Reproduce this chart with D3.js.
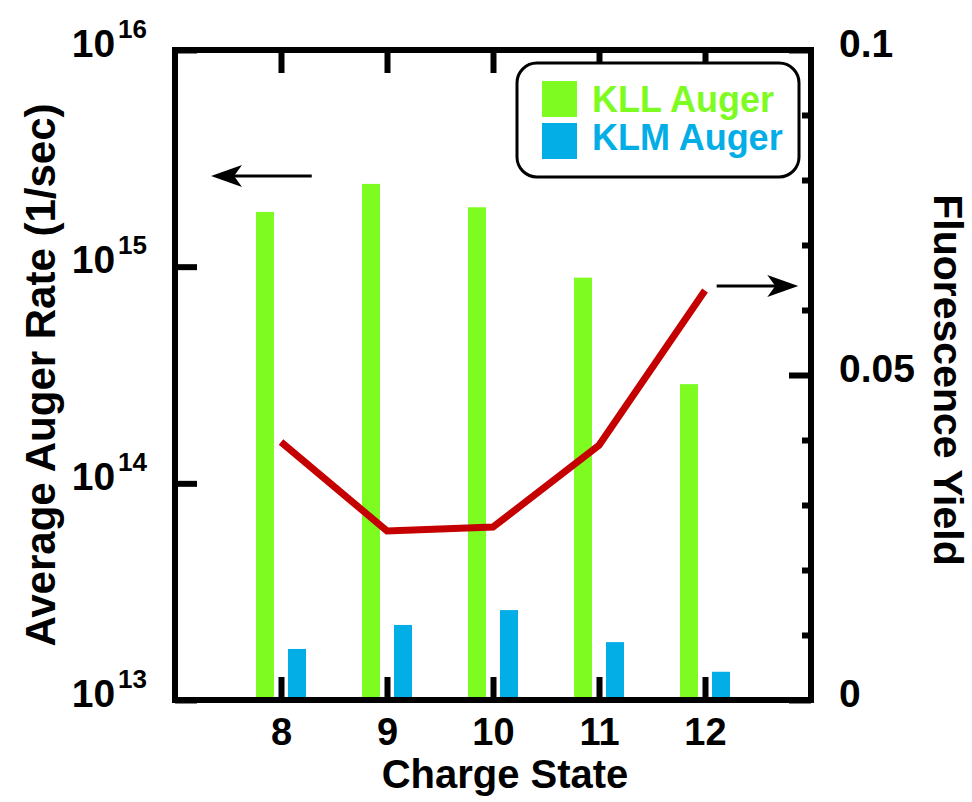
<!DOCTYPE html>
<html>
<head>
<meta charset="utf-8">
<script src="https://cdn.jsdelivr.net/npm/d3@7"></script>
<style>
  html, body { margin: 0; padding: 0; background: #fff; }
  svg { display: block; font-family: "Liberation Sans", Arial, Helvetica, sans-serif; font-weight: bold; }
</style>
</head>
<body>
<svg id="chart" width="972" height="802"></svg>
<script>
// Charge states on the x axis
const chargeStates = [8, 9, 10, 11, 12];
// Average Auger rates (1/sec), left log axis
const kllAuger = [1.79e15, 2.41e15, 1.88e15, 8.9e14, 2.87e14];
const klmAuger = [1.72e13, 2.22e13, 2.60e13, 1.85e13, 1.35e13];
// Fluorescence yield, right linear axis
const fluorescenceYield = [0.0397, 0.0260, 0.0266, 0.0392, 0.0630];
// Tick values and labels
const leftTicks = [1e13, 1e14, 1e15, 1e16];
const rightMajorTicks = [0, 0.05, 0.1];
const rightMajorLabels = ["0", "0.05", "0.1"];
const rightMinorTicks = [0.01, 0.02, 0.03, 0.04, 0.06, 0.07, 0.08, 0.09];
const seriesNames = ["KLL Auger", "KLM Auger"];

const colors = { kll: "#7efc22", klm: "#03ade6", line: "#c40000" };

const svg = d3.select("#chart");
const L = 175, R = 811, T = 50, B = 700;

const x = d3.scaleLinear().domain([7, 13]).range([L, R]);
const yL = d3.scaleLog().domain([1e13, 1e16]).range([B, T]);
const yR = d3.scaleLinear().domain([0, 0.1]).range([B, T]);

const barW = 18, barGap = 7;

// KLL bars (left of each charge state)
svg.append("g").selectAll("rect")
  .data(chargeStates.map((c, i) => ({ c, v: kllAuger[i] })))
  .join("rect")
  .attr("x", d => x(d.c) - barGap - barW)
  .attr("width", barW)
  .attr("y", d => yL(d.v))
  .attr("height", d => B - yL(d.v))
  .attr("fill", colors.kll);

// KLM bars (right of each charge state)
svg.append("g").selectAll("rect")
  .data(chargeStates.map((c, i) => ({ c, v: klmAuger[i] })))
  .join("rect")
  .attr("x", d => x(d.c) + barGap)
  .attr("width", barW)
  .attr("y", d => yL(d.v))
  .attr("height", d => B - yL(d.v))
  .attr("fill", colors.klm);

// Fluorescence yield line
svg.append("path")
  .datum(chargeStates.map((c, i) => [c, fluorescenceYield[i]]))
  .attr("d", d3.line().x(d => x(d[0])).y(d => yR(d[1])))
  .attr("fill", "none")
  .attr("stroke", colors.line)
  .attr("stroke-width", 7)
  .attr("stroke-linejoin", "miter");

// Axes
function styleAxis(g) {
  g.select(".domain").remove();
  g.selectAll(".tick line").attr("stroke", "#000").attr("stroke-width", 6);
  g.selectAll(".tick text").attr("fill", "#000");
}

// Bottom axis
svg.append("g")
  .attr("transform", `translate(0,${B})`)
  .call(d3.axisBottom(x).tickValues(chargeStates).tickSize(-23).tickPadding(18).tickFormat(d3.format("d")))
  .call(styleAxis)
  .call(g => g.selectAll(".tick text").attr("font-size", 38).attr("font-family", null).attr("font-weight", "bold"));

// Top axis (ticks only)
svg.append("g")
  .attr("transform", `translate(0,${T})`)
  .call(d3.axisTop(x).tickValues(chargeStates).tickSize(-23).tickFormat(""))
  .call(styleAxis);

// Left log axis with 10^n labels
svg.append("g")
  .attr("transform", `translate(${L},0)`)
  .call(d3.axisLeft(yL).tickValues(leftTicks).tickSize(-22).tickPadding(28))
  .call(styleAxis)
  .call(g => {
    g.selectAll(".tick text").each(function(d) {
      const t = d3.select(this).text(null)
        .attr("font-family", null).attr("font-weight", "bold")
        .attr("dy", 6).attr("font-size", 39);
      t.append("tspan").text("10");
      t.append("tspan").attr("font-size", 26).attr("dy", -19).attr("dx", 3)
        .text(Math.round(Math.log10(d)));
    });
  });

// Right axis: minor ticks
svg.append("g")
  .attr("transform", `translate(${R},0)`)
  .call(d3.axisRight(yR).tickValues(rightMinorTicks).tickSize(-9).tickFormat(""))
  .call(styleAxis);

// Right axis: major ticks and labels
svg.append("g")
  .attr("transform", `translate(${R},0)`)
  .call(d3.axisRight(yR).tickValues(rightMajorTicks).tickSize(-22).tickPadding(28)
    .tickFormat((d, i) => rightMajorLabels[i]))
  .call(styleAxis)
  .call(g => g.selectAll(".tick text").attr("font-size", 39).attr("font-family", null)
    .attr("font-weight", "bold").attr("dy", 6));

// Frame
svg.append("rect")
  .attr("x", L).attr("y", T).attr("width", R - L).attr("height", B - T)
  .attr("fill", "none").attr("stroke", "#000").attr("stroke-width", 6)
  .attr("stroke-linejoin", "miter");

// Axis titles
svg.append("text")
  .attr("transform", `translate(55,${(T + B) / 2}) rotate(-90)`)
  .attr("text-anchor", "middle")
  .attr("font-size", 42)
  .text("Average Auger Rate (1/sec)");

svg.append("text")
  .attr("transform", `translate(934,380) rotate(90)`)
  .attr("text-anchor", "middle")
  .attr("font-size", 41)
  .text("Fluorescence Yield");

svg.append("text")
  .attr("x", 505).attr("y", 788)
  .attr("text-anchor", "middle")
  .attr("font-size", 40)
  .text("Charge State");

// Arrows pointing to each series' axis
function arrow(x1, x2, yy) {
  const dir = Math.sign(x2 - x1);
  const g = svg.append("g");
  g.append("line")
    .attr("x1", x1).attr("x2", x2 - dir * 20).attr("y1", yy).attr("y2", yy)
    .attr("stroke", "#000").attr("stroke-width", 3);
  const hl = 31, hw = 11, notch = 8;
  g.append("path")
    .attr("d", `M${x2},${yy} L${x2 - dir * hl},${yy - hw} L${x2 - dir * (hl - notch)},${yy} L${x2 - dir * hl},${yy + hw} Z`)
    .attr("fill", "#000");
}
arrow(x(8.29), x(7.34), yL(10 ** 15.418));
arrow(x(12.11), x(12.88), yR(0.0637));

// Legend
const leg = svg.append("g");
leg.append("rect")
  .attr("x", 517).attr("y", 63).attr("width", 282).attr("height", 114)
  .attr("rx", 20).attr("ry", 20)
  .attr("fill", "#fff").attr("stroke", "#000").attr("stroke-width", 3);
[colors.kll, colors.klm].forEach((c, i) => {
  leg.append("rect")
    .attr("x", 542).attr("y", 81 + i * 42).attr("width", 35).attr("height", 36)
    .attr("fill", c);
  leg.append("text")
    .attr("x", 592).attr("y", 112 + i * 38)
    .attr("font-size", 36).attr("fill", c)
    .text(seriesNames[i]);
});
</script>
</body>
</html>
